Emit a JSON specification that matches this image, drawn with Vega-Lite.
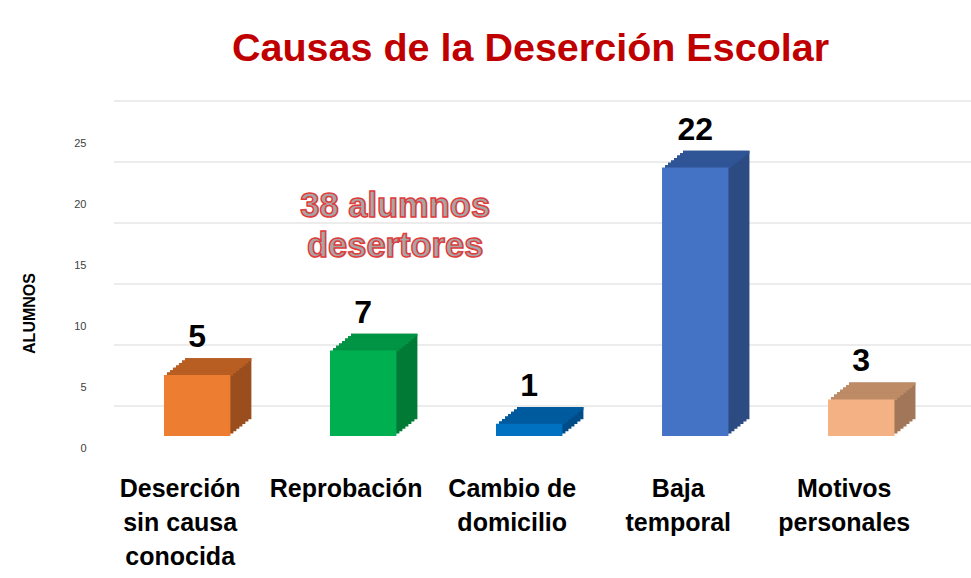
{
  "$schema": "https://vega.github.io/schema/vega-lite/v6.json",
  "width": 857,
  "height": 305,
  "autosize": {"type": "none"},
  "padding": {"left": 114, "top": 131, "right": 0, "bottom": 142},
  "background": "white",
  "config": {"view": {"stroke": null}},
  "title": {
    "text": "Causas de la Deserción Escolar",
    "color": "#C00000",
    "font": "Liberation Sans",
    "fontSize": 39.5,
    "fontWeight": "bold",
    "anchor": "middle",
    "frame": "group",
    "offset": 31,
    "dx": -12
  },
  "encoding": {
    "y": {
      "field": "alumnos",
      "type": "quantitative",
      "scale": {"domain": [0, 25]},
      "axis": {
        "title": "ALUMNOS",
        "titleFont": "Liberation Sans",
        "titleFontWeight": "bold",
        "titleFontSize": 16,
        "titleColor": "black",
        "titleX": -85,
        "titleY": 182,
        "titleAngle": -90,
        "titleAlign": "center",
        "titleBaseline": "middle",
        "values": [0, 5, 10, 15, 20, 25],
        "labelFont": "Liberation Sans",
        "labelFontSize": 11,
        "labelColor": "#404040",
        "labelPadding": 28,
        "labelOffset": 12,
        "domain": false,
        "ticks": false,
        "grid": false
      }
    }
  },
  "layer": [
    {
      "data": {"values": [{"alumnos": 0}, {"alumnos": 5}, {"alumnos": 10}, {"alumnos": 15}, {"alumnos": 20}, {"alumnos": 25}]},
      "mark": {"type": "rule", "yOffset": -30, "color": "#D9D9D9", "strokeWidth": 1}
    },
    {
      "data": {
        "values": [
          {"causa": "Deserción sin causa conocida", "alumnos": 5},
          {"causa": "Reprobación", "alumnos": 7},
          {"causa": "Cambio de domicilio", "alumnos": 1},
          {"causa": "Baja temporal", "alumnos": 22},
          {"causa": "Motivos personales", "alumnos": 3}
        ]
      },
      "encoding": {
        "x": {
          "field": "causa",
          "type": "nominal",
          "sort": null,
          "scale": {"paddingInner": 0.6, "paddingOuter": 0.381, "align": 0.395},
          "axis": {
            "title": null,
            "labelExpr": "datum.label == 'Deserción sin causa conocida' ? ['Deserción', 'sin causa', 'conocida'] : datum.label == 'Cambio de domicilio' ? ['Cambio de', 'domicilio'] : datum.label == 'Baja temporal' ? ['Baja', 'temporal'] : datum.label == 'Motivos personales' ? ['Motivos', 'personales'] : datum.label",
            "labelFont": "Liberation Sans",
            "labelFontWeight": "bold",
            "labelFontSize": 25,
            "labelColor": "black",
            "labelPadding": 40,
            "labelOffset": -17,
            "labelLineHeight": 34,
            "labelBaseline": "top",
            "labelAngle": 0,
            "labelLimit": 0,
            "domain": false,
            "ticks": false,
            "grid": false
          }
        }
      },
      "layer": [
        {
          "encoding": {
            "color": {
              "field": "causa",
              "type": "nominal",
              "scale": {
                "domain": ["Deserción sin causa conocida", "Reprobación", "Cambio de domicilio", "Baja temporal", "Motivos personales"],
                "range": ["#9A4E1D", "#007A34", "#004C86", "#2C4B82", "#A17659"]
              },
              "legend": null
            }
          },
          "layer": [
            {"mark": {"type": "bar", "xOffset": 3, "x2Offset": 3, "yOffset": -2.4, "y2Offset": -2.4}},
            {"mark": {"type": "bar", "xOffset": 6, "x2Offset": 6, "yOffset": -4.8, "y2Offset": -4.8}},
            {"mark": {"type": "bar", "xOffset": 9, "x2Offset": 9, "yOffset": -7.2, "y2Offset": -7.2}},
            {"mark": {"type": "bar", "xOffset": 12, "x2Offset": 12, "yOffset": -9.6, "y2Offset": -9.6}},
            {"mark": {"type": "bar", "xOffset": 15, "x2Offset": 15, "yOffset": -12, "y2Offset": -12}},
            {"mark": {"type": "bar", "xOffset": 18, "x2Offset": 18, "yOffset": -14.4, "y2Offset": -14.4}},
            {"mark": {"type": "bar", "xOffset": 21, "x2Offset": 21, "yOffset": -16.8, "y2Offset": -16.8}}
          ]
        },
        {
          "encoding": {
            "y2": {"field": "alumnos"},
            "color": {
              "field": "causa",
              "type": "nominal",
              "scale": {
                "domain": ["Deserción sin causa conocida", "Reprobación", "Cambio de domicilio", "Baja temporal", "Motivos personales"],
                "range": ["#B95E22", "#009444", "#005A9E", "#2F5597", "#BE8B67"]
              },
              "legend": null
            }
          },
          "layer": [
            {"mark": {"type": "bar", "xOffset": 3, "x2Offset": 3, "yOffset": -2.4, "y2Offset": 0.5}},
            {"mark": {"type": "bar", "xOffset": 6, "x2Offset": 6, "yOffset": -4.8, "y2Offset": -1.9}},
            {"mark": {"type": "bar", "xOffset": 9, "x2Offset": 9, "yOffset": -7.2, "y2Offset": -4.3}},
            {"mark": {"type": "bar", "xOffset": 12, "x2Offset": 12, "yOffset": -9.6, "y2Offset": -6.7}},
            {"mark": {"type": "bar", "xOffset": 15, "x2Offset": 15, "yOffset": -12, "y2Offset": -9.1}},
            {"mark": {"type": "bar", "xOffset": 18, "x2Offset": 18, "yOffset": -14.4, "y2Offset": -11.5}},
            {"mark": {"type": "bar", "xOffset": 21, "x2Offset": 21, "yOffset": -16.8, "y2Offset": -13.9}}
          ]
        },
        {
          "mark": {"type": "bar"},
          "encoding": {
            "color": {
              "field": "causa",
              "type": "nominal",
              "scale": {
                "domain": ["Deserción sin causa conocida", "Reprobación", "Cambio de domicilio", "Baja temporal", "Motivos personales"],
                "range": ["#ED7D31", "#00B050", "#0070C0", "#4472C4", "#F4B183"]
              },
              "legend": null
            }
          }
        },
        {
          "mark": {
            "type": "text",
            "baseline": "bottom",
            "dy": -21,
            "font": "Liberation Sans",
            "fontWeight": "bold",
            "fontSize": 32,
            "color": "black"
          },
          "encoding": {"text": {"field": "alumnos", "type": "quantitative"}}
        },
        {
          "data": {"values": [{"causa": "Reprobación", "alumnos": 18.8, "nota": "38 alumnos\ndesertores"}]},
          "mark": {
            "type": "text",
            "lineBreak": "\n",
            "lineHeight": 40,
            "align": "center",
            "baseline": "middle",
            "dx": 32,
            "font": "Liberation Sans",
            "fontWeight": "bold",
            "fontSize": 34.5,
            "fill": "#A6A6A6",
            "stroke": "#E03C3C",
            "strokeWidth": 1.5
          },
          "encoding": {"text": {"field": "nota", "type": "nominal"}}
        }
      ],
      "resolve": {"scale": {"color": "independent"}}
    }
  ]
}
